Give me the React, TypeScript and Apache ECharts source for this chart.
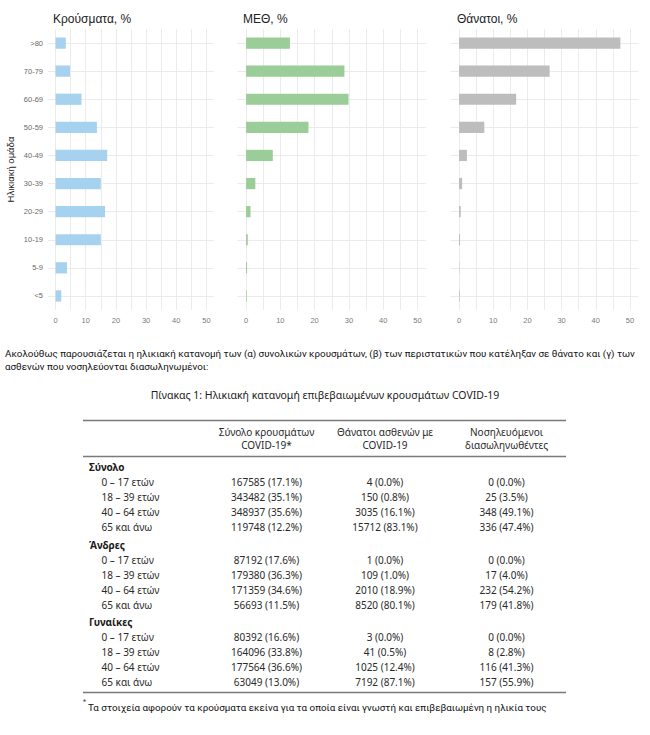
import React, { useEffect, useRef } from 'react';
import * as echarts from 'echarts';

// ---- chart data ----
const ageGroups = ['<5', '5-9', '10-19', '20-29', '30-39', '40-49', '50-59', '60-69', '70-79', '>80'];
const casesPct = [1.9, 3.8, 15.0, 16.4, 15.0, 17.1, 13.7, 8.6, 4.8, 3.4];
const icuPct = [0.2, 0.3, 0.5, 1.3, 2.7, 7.8, 18.2, 29.9, 28.7, 12.8];
const deathsPct = [0.2, 0.1, 0.3, 0.5, 0.9, 2.3, 7.4, 16.7, 26.5, 47.2];
const panelTitles = ['Κρούσματα, %', 'ΜΕΘ, %', 'Θάνατοι, %'];
const xTickLabels = [0, 10, 20, 30, 40, 50];
const xGridValues = [0, 5, 10, 15, 20, 25, 30, 35, 40, 45, 50];
const yAxisName = 'Ηλικιακή ομάδα';

// ---- text & table data ----
const paragraphLines = [
  'Ακολούθως παρουσιάζεται η ηλικιακή κατανομή των (α) συνολικών κρουσμάτων, (β) των περιστατικών που κατέληξαν σε θάνατο και (γ) των',
  'ασθενών που νοσηλεύονται διασωληνωμένοι:',
];
const tableTitle = 'Πίνακας 1: Ηλικιακή κατανομή επιβεβαιωμένων κρουσμάτων COVID-19';
const columnHeaders = [
  ['Σύνολο κρουσμάτων', 'COVID-19*'],
  ['Θάνατοι ασθενών με', 'COVID-19'],
  ['Νοσηλευόμενοι', 'διασωληνωθέντες'],
];
const groupNames = ['Σύνολο', 'Άνδρες', 'Γυναίκες'];
const ageBands = ['0 – 17 ετών', '18 – 39 ετών', '40 – 64 ετών', '65 και άνω'];
const casesCount = [
  [167585, 343482, 348937, 119748],
  [87192, 179380, 171359, 56693],
  [80392, 164096, 177564, 63049],
];
const casesShare = [
  [17.1, 35.1, 35.6, 12.2],
  [17.6, 36.3, 34.6, 11.5],
  [16.6, 33.8, 36.6, 13.0],
];
const deathsCount = [
  [4, 150, 3035, 15712],
  [1, 109, 2010, 8520],
  [3, 41, 1025, 7192],
];
const deathsShare = [
  [0.0, 0.8, 16.1, 83.1],
  [0.0, 1.0, 18.9, 80.1],
  [0.0, 0.5, 12.4, 87.1],
];
const intubatedCount = [
  [0, 25, 348, 336],
  [0, 17, 232, 179],
  [0, 8, 116, 157],
];
const intubatedShare = [
  [0.0, 3.5, 49.1, 47.4],
  [0.0, 4.0, 54.2, 41.8],
  [0.0, 2.8, 41.3, 55.9],
];
const footnote = 'Τα στοιχεία αφορούν τα κρούσματα εκείνα για τα οποία είναι γνωστή και επιβεβαιωμένη η ηλικία τους';

const seriesValues = [casesPct, icuPct, deathsPct];
const barColors = ['#A6D2EF', '#9BCD98', '#BDBDBD'];
const gridLefts = [48, 237.5, 450.5];
const gridWidths = [166, 188.5, 188];
const titleLefts = [48, 238, 452];

const fmt = (n: number, p: number) => `${n} (${p.toFixed(1)}%)`;

function buildOption() {
  const grids = gridLefts.map((l, i) => ({ left: l, top: 29, width: gridWidths[i], height: 281 }));
  const gridColor = '#EBEBEB';
  const xAxes = grids.map((_, i) => ({
    type: 'value',
    gridIndex: i,
    min: -2.5,
    max: 52.5,
    axisLine: { show: false },
    axisTick: { show: false, customValues: xGridValues },
    axisLabel: {
      customValues: xTickLabels,
      color: '#7a7a7a',
      fontSize: 7.5,
      fontFamily: 'Liberation Sans',
      margin: 6,
    },
    splitLine: { show: true, lineStyle: { color: gridColor, width: 1 } },
  }));
  const yAxes = grids.map((_, i) => ({
    type: 'category',
    gridIndex: i,
    data: ageGroups,
    axisLine: { show: false },
    axisTick: { show: false },
    axisLabel: {
      show: i === 0,
      color: '#6a6a6a',
      fontSize: 7.5,
      fontFamily: 'Liberation Sans',
      margin: 5,
    },
    splitLine: { show: true, alignWithLabel: true, lineStyle: { color: gridColor, width: 1 } },
    name: i === 0 ? yAxisName : '',
    nameLocation: 'middle',
    nameGap: 33,
    nameRotate: 90,
    nameTextStyle: { color: '#222', fontSize: 9.5, fontFamily: 'Liberation Sans' },
  }));
  const series = seriesValues.map((vals, i) => ({
    type: 'bar',
    xAxisIndex: i,
    yAxisIndex: i,
    data: vals,
    barWidth: '40%',
    itemStyle: { color: barColors[i] },
    silent: true,
  }));
  const titles = panelTitles.map((t, i) => ({
    text: t,
    left: titleLefts[i],
    top: 8,
    textStyle: { fontSize: 12, fontWeight: 'normal', color: '#222', fontFamily: 'Liberation Sans' },
  }));

  const graphics: any[] = [];
  const txt = (text: string, x: number, y: number, o: any = {}) =>
    graphics.push({
      type: 'text',
      x,
      y,
      silent: true,
      style: {
        text,
        fill: o.fill || '#222',
        fontSize: o.fontSize || 10,
        fontFamily: o.fontFamily || 'Noto Sans',
        fontWeight: o.fontWeight || 'normal',
        textAlign: o.align || 'left',
        textVerticalAlign: 'middle',
      },
    });
  const rule = (y: number) =>
    graphics.push({
      type: 'line',
      silent: true,
      shape: { x1: 83, y1: y, x2: 566, y2: y },
      style: { stroke: '#7a7a7a', lineWidth: 1.6 },
    });

  // paragraph
  paragraphLines.forEach((l, i) =>
    txt(l, 5, 353 + i * 13, { fontFamily: 'Roboto', fontSize: 9.8, fill: '#111' })
  );
  txt(tableTitle, 325, 395, { align: 'center', fontSize: 10.5, fill: '#222' });

  // table
  rule(420.5);
  const colX = [266.5, 385, 506.5];
  columnHeaders.forEach((h, c) => {
    txt(h[0], colX[c], 432, { align: 'center', fill: '#2a2a2a' });
    txt(h[1], colX[c], 445, { align: 'center', fill: '#2a2a2a' });
  });
  rule(456.5);
  const groupY = [467, 545, 622];
  groupNames.forEach((g, gi) => {
    const gy = groupY[gi];
    txt(g, 89, gy, { fontWeight: 'bold', fill: '#1a1a1a' });
    ageBands.forEach((b, r) => {
      const y = gy + 15 + r * 15;
      txt(b, 101.5, y, { fill: '#2a2a2a' });
      txt(fmt(casesCount[gi][r], casesShare[gi][r]), colX[0], y, { align: 'center', fill: '#2a2a2a' });
      txt(fmt(deathsCount[gi][r], deathsShare[gi][r]), colX[1], y, { align: 'center', fill: '#2a2a2a' });
      txt(fmt(intubatedCount[gi][r], intubatedShare[gi][r]), colX[2], y, { align: 'center', fill: '#2a2a2a' });
    });
  });
  rule(692.5);
  txt('*', 83, 702, { fontSize: 7, fill: '#333', fontFamily: 'Roboto' });
  txt(footnote, 88, 707, { fontSize: 9.8, fill: '#111', fontFamily: 'Roboto' });

  return {
    animation: false,
    backgroundColor: '#ffffff',
    title: titles,
    grid: grids,
    xAxis: xAxes,
    yAxis: yAxes,
    series,
    graphic: graphics,
  };
}

export default function App() {
  const ref = useRef<HTMLDivElement>(null);
  useEffect(() => {
    document.body.style.margin = '0';
    if (!ref.current) return;
    const chart = echarts.init(ref.current, null, { renderer: 'svg' });
    chart.setOption(buildOption() as any);
    return () => chart.dispose();
  }, []);
  return (
    <div
      ref={ref}
      style={{ position: 'absolute', left: 0, top: 0, width: 650, height: 735, background: '#fff' }}
    />
  );
}
